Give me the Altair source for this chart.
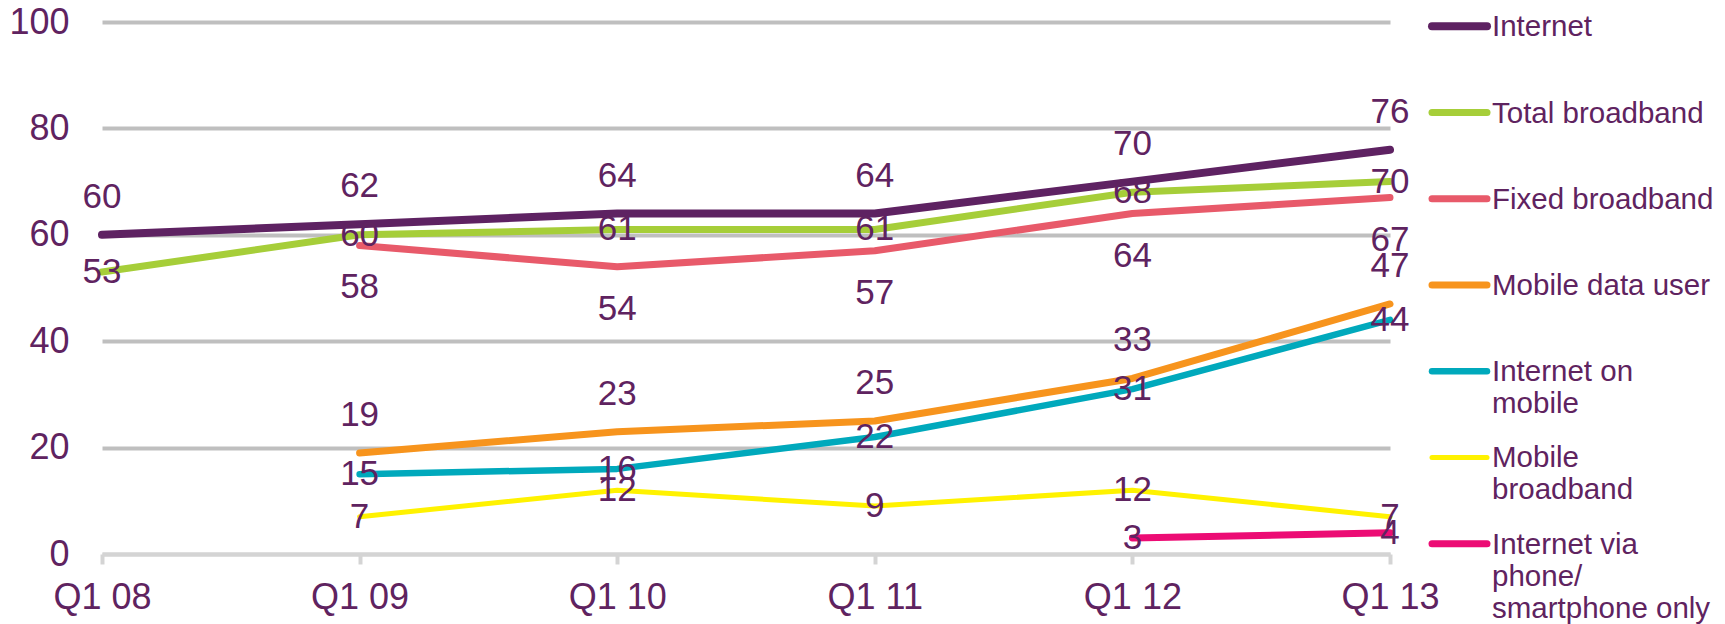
import altair as alt
import pandas as pd

quarters = ["Q1 08", "Q1 09", "Q1 10", "Q1 11", "Q1 12", "Q1 13"]

series_names = [
    "Internet",
    "Total broadband",
    "Fixed broadband",
    "Mobile data user",
    "Internet on mobile",
    "Mobile broadband",
    "Internet via phone/smartphone only",
]
legend_labels = [
    "Internet",
    "Total broadband",
    "Fixed broadband",
    "Mobile data user",
    "Internet on\nmobile",
    "Mobile\nbroadband",
    "Internet via\nphone/\nsmartphone only",
]

internet = [60, 62, 64, 64, 70, 76]
total_broadband = [53, 60, 61, 61, 68, 70]
fixed_broadband = [None, 58, 54, 57, 64, 67]
mobile_data_user = [None, 19, 23, 25, 33, 47]
internet_on_mobile = [None, 15, 16, 22, 31, 44]
mobile_broadband = [None, 7, 12, 9, 12, 7]
phone_only = [None, None, None, None, 3, 4]

all_values = [internet, total_broadband, fixed_broadband, mobile_data_user,
              internet_on_mobile, mobile_broadband, phone_only]

colors = ["#5E2262", "#A6CE39", "#E85A6A", "#F7941D", "#00A9BC", "#FFF200", "#EC0C74"]

label_pos = {
    "Internet": "above",
    "Total broadband": "center",
    "Fixed broadband": "below",
    "Mobile data user": "above",
    "Internet on mobile": "center",
    "Mobile broadband": "center",
    "Internet via phone/smartphone only": "center",
}

rows = []
for name, vals in zip(series_names, all_values):
    for q, v in zip(quarters, vals):
        if v is not None:
            rows.append({"quarter": q, "series": name, "value": v, "pos": label_pos[name]})
df = pd.DataFrame(rows)

leg_df = pd.DataFrame({"series": series_names, "label": legend_labels})

TEXT = "#5F2360"
FONT = "Liberation Sans"

color_scale = alt.Scale(domain=series_names, range=colors)

width_cond = alt.StrokeWidthValue(
    7,
    condition=[
        {"test": "datum.series == 'Internet'", "value": 8},
        {"test": "datum.series == 'Internet on mobile'", "value": 6.5},
        {"test": "datum.series == 'Mobile broadband'", "value": 5},
    ],
)

x_enc = alt.X(
    "quarter:N",
    sort=quarters,
    scale=alt.Scale(type="point", padding=0),
    axis=alt.Axis(
        title=None, labelAngle=0, labelFontSize=36, labelColor=TEXT, labelFont=FONT,
        labelPadding=16, tickSize=10, tickWidth=4, tickColor="#D4D4D4",
        domainColor="#D4D4D4", domainWidth=4, grid=False,
    ),
)
y_enc = alt.Y(
    "value:Q",
    scale=alt.Scale(domain=[0, 100], nice=False),
    axis=alt.Axis(
        title=None, values=[0, 20, 40, 60, 80, 100], labelFontSize=36, labelColor=TEXT,
        labelFont=FONT, labelPadding=33, ticks=False, domain=False, grid=True,
        gridWidth=4,
        gridColor=alt.condition("datum.value == 0", alt.value("#D4D4D4"), alt.value("#BFBFBF")),
    ),
)

base = alt.Chart(df)

lines = base.mark_line(strokeCap="round", strokeJoin="round").encode(
    x=x_enc,
    y=y_enc,
    color=alt.Color("series:N", scale=color_scale, legend=None),
    strokeWidth=width_cond,
    detail="series:N",
)

def labels(pos, dy):
    return base.transform_filter(alt.datum.pos == pos).mark_text(
        fontSize=35, font=FONT, color=TEXT, baseline="middle", align="center", dy=dy
    ).encode(
        x=alt.X("quarter:N", sort=quarters),
        y=alt.Y("value:Q"),
        text=alt.Text("value:Q"),
    )

main = alt.layer(
    lines, labels("above", -38), labels("center", 0), labels("below", 42)
).properties(width=1288, height=532)

leg_y = alt.Y(
    "series:N", sort=series_names,
    scale=alt.Scale(type="point", padding=0.05), axis=None,
)
leg_base = alt.Chart(leg_df)
leg_rules = leg_base.mark_rule(strokeCap="round").encode(
    y=leg_y,
    x=alt.value(0),
    x2=alt.value(55),
    color=alt.Color("series:N", scale=color_scale, legend=None),
    strokeWidth=width_cond,
)
leg_text = leg_base.mark_text(
    fontSize=29.5, font=FONT, color=TEXT, align="left", baseline="alphabetic",
    dy=10, lineBreak="\n", lineHeight=32,
).encode(
    y=leg_y,
    x=alt.value(60),
    text="label:N",
)
legend = alt.layer(leg_rules, leg_text).properties(width=240, height=526)

concat = alt.hconcat(main, legend, spacing=42, bounds="flush").configure_view(stroke=None)

try:
    chart = concat.properties(padding={"left": 0, "top": -4, "right": 0, "bottom": 0})
    chart.save("out.html", embed_options={"renderer": "svg", "actions": False})
except Exception:
    chart = concat.properties(padding={"left": 0, "top": 0, "right": 0, "bottom": 0})
    chart.save("out.html", embed_options={"renderer": "svg", "actions": False})
